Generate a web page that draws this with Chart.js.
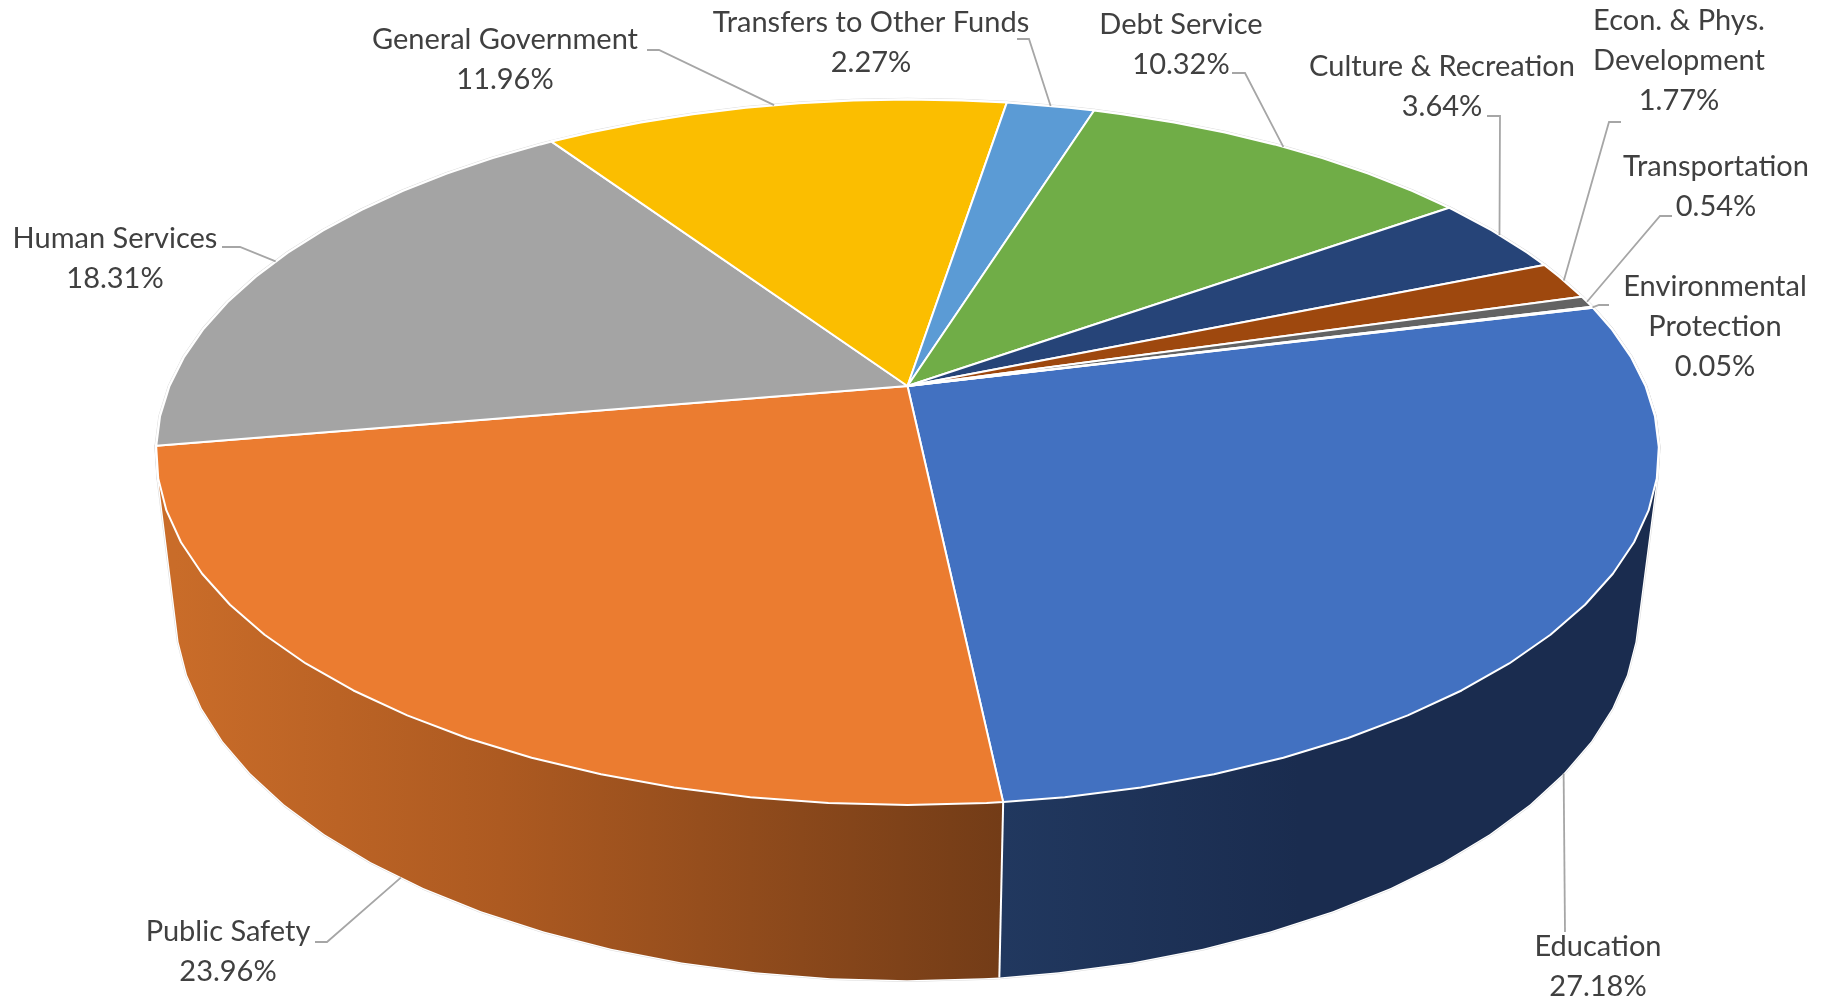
<!DOCTYPE html>
<html>
<head>
<meta charset="utf-8">
<title>Expenditures by Function</title>
<style>
  html, body { margin: 0; padding: 0; background: #ffffff; }
  canvas { display: block; }
</style>
<script src="https://cdn.jsdelivr.net/npm/chart.js@4/dist/chart.umd.js"></script>
</head>
<body>
<canvas id="pie" width="1835" height="1002"></canvas>
<script>
// Spending shares, clockwise from the first slice
const categories = ['Education', 'Public Safety', 'Human Services', 'General Government',
  'Transfers to Other Funds', 'Debt Service', 'Culture & Recreation',
  'Econ. & Phys. Development', 'Transportation', 'Environmental Protection'];
const shares = [27.18, 23.96, 18.31, 11.96, 2.27, 10.32, 3.64, 1.77, 0.54, 0.05];
const sliceColors = ['#4271C1', '#EB7C30', '#A4A4A4', '#FBBE00', '#5B9BD5',
  '#70AD47', '#264478', '#9E480E', '#636363', '#997300'];
const labelLines = [['Education'], ['Public Safety'], ['Human Services'], ['General Government'],
  ['Transfers to Other Funds'], ['Debt Service'], ['Culture & Recreation'],
  ['Econ. & Phys.', 'Development'], ['Transportation'], ['Environmental', 'Protection']];

// Label block centre, first baseline, and the two leader points next to the text
const labelLayout = [
  { x: 1598, y: 956, from: [1565, 932], elbow: [1565, 932] },
  { x: 228, y: 941, from: [315, 942], elbow: [327, 942] },
  { x: 115, y: 248, from: [222, 247], elbow: [240, 247] },
  { x: 505, y: 49, from: [647, 50], elbow: [659, 50] },
  { x: 871, y: 32, from: [1017, 39], elbow: [1029, 39] },
  { x: 1181, y: 34, from: [1232, 73], elbow: [1245, 73] },
  { x: 1442, y: 76, from: [1487, 116], elbow: [1500, 116] },
  { x: 1679, y: 30, from: [1621, 122], elbow: [1609, 122] },
  { x: 1716, y: 176, from: [1672, 216], elbow: [1660, 216] },
  { x: 1715, y: 296, from: [1609, 305], elbow: [1599, 305] }
];

// Side-wall shading: horizontal gradient stops in canvas x
const wallShades = {
  0: [[1002, '#21385F'], [1300, '#1A2C4F'], [1660, '#1A2C4F']],
  1: [[176, '#C96C29'], [500, '#AD5A21'], [1002, '#733C17']]
};

// Perspective of the top and bottom rims of the disc
const topRim = { cx: 907.5, cy: 386, a: 738, b: 340.3, p: 0.1878 };
const bottomRim = { cx: 907, cy: 545, a: 719, b: 357, p: 0.18 };
const FACET = Math.PI / 36;
const FONT = '29px Lato';
const LINE_HEIGHT = 40;

function project(rim, angle) {
  const u = Math.cos(angle), v = Math.sin(angle);
  const w = 1 - rim.p * v;
  return [rim.cx + rim.a * u / w, rim.cy + rim.b * v / w];
}

function sampleAngles(start, end) {
  const list = [start];
  let a = Math.ceil(start / FACET + 1e-6) * FACET;
  while (a < end - 1e-6) { list.push(a); a += FACET; }
  list.push(end);
  return list;
}

// The whole side wall of a slice as one path of quads, all wound the same way,
// so the fill is seamless and overlapping quads past the silhouette do not cancel
function wallPath(ctx, arc) {
  const angles = sampleAngles(arc.startAngle, arc.endAngle);
  ctx.beginPath();
  angles.slice(1).forEach((a1, i) => {
    const a0 = angles[i];
    const quad = [project(topRim, a0), project(topRim, a1), project(bottomRim, a1), project(bottomRim, a0)];
    let area = 0;
    quad.forEach(([x, y], n) => {
      const [nx, ny] = quad[(n + 1) % 4];
      area += x * ny - nx * y;
    });
    if (area < 0) quad.reverse();
    quad.forEach(([x, y], n) => (n ? ctx.lineTo(x, y) : ctx.moveTo(x, y)));
    ctx.closePath();
  });
}

function wedgePath(ctx, arc) {
  ctx.beginPath();
  ctx.moveTo(topRim.cx, topRim.cy);
  sampleAngles(arc.startAngle, arc.endAngle).forEach(a => {
    const [x, y] = project(topRim, a);
    ctx.lineTo(x, y);
  });
  ctx.closePath();
}

function wallFill(ctx, index) {
  const stops = wallShades[index];
  const first = stops[0][0], last = stops[stops.length - 1][0];
  const g = ctx.createLinearGradient(first, 0, last, 0);
  stops.forEach(([x, c]) => g.addColorStop((x - first) / (last - first), c));
  return g;
}

// Replaces the flat arc drawing with a tilted, extruded disc built from the arc angles
const tiltedDisc = {
  id: 'tiltedDisc',
  beforeDatasetDraw(chart, args) {
    const ctx = chart.ctx;
    const arcs = chart.getDatasetMeta(args.index).data;
    const walled = [0, 1].filter(i => arcs[i]);
    ctx.save();
    ctx.lineJoin = 'round';

    // Faint outer rim, then the white edge just inside it
    [['#dcdcdc', 3.5], ['#ffffff', 2.5]].forEach(([color, width]) => {
      ctx.strokeStyle = color;
      ctx.lineWidth = width;
      walled.forEach(i => { wallPath(ctx, arcs[i]); ctx.stroke(); });
      arcs.forEach(arc => { wedgePath(ctx, arc); ctx.stroke(); });
    });

    walled.forEach(i => {
      wallPath(ctx, arcs[i]);
      ctx.fillStyle = wallFill(ctx, i);
      ctx.fill();
    });

    // White seam where two walls meet
    const seam = arcs[0].endAngle;
    const [sx0, sy0] = project(topRim, seam);
    const [sx1, sy1] = project(bottomRim, seam);
    ctx.beginPath();
    ctx.moveTo(sx0, sy0);
    ctx.lineTo(sx1, sy1);
    ctx.strokeStyle = '#ffffff';
    ctx.lineWidth = 2;
    ctx.stroke();

    arcs.forEach((arc, i) => {
      wedgePath(ctx, arc);
      ctx.fillStyle = sliceColors[i];
      ctx.fill();
      ctx.strokeStyle = '#ffffff';
      ctx.lineWidth = 2;
      ctx.stroke();
    });
    ctx.restore();
    return false;
  },
  afterDatasetsDraw(chart) {
    const ctx = chart.ctx;
    const arcs = chart.getDatasetMeta(0).data;
    ctx.save();
    ctx.font = FONT;
    ctx.textAlign = 'center';
    ctx.textBaseline = 'alphabetic';
    arcs.forEach((arc, i) => {
      const layout = labelLayout[i];
      const mid = (arc.startAngle + arc.endAngle) / 2;
      // Front-facing slices hook onto the lower rim, the rest onto the top rim
      const end = project(i < 2 ? bottomRim : topRim, mid);
      ctx.beginPath();
      ctx.moveTo(layout.from[0], layout.from[1]);
      ctx.lineTo(layout.elbow[0], layout.elbow[1]);
      ctx.lineTo(end[0], end[1]);
      ctx.strokeStyle = '#A6A6A6';
      ctx.lineWidth = 1.8;
      ctx.stroke();

      ctx.fillStyle = '#404040';
      const lines = labelLines[i].concat(shares[i].toFixed(2) + '%');
      lines.forEach((text, n) => ctx.fillText(text, layout.x, layout.y + n * LINE_HEIGHT));
    });
    ctx.restore();
  }
};

new Chart(document.getElementById('pie'), {
  type: 'pie',
  data: {
    labels: categories,
    datasets: [{ data: shares, backgroundColor: sliceColors, borderColor: '#ffffff', borderWidth: 2 }]
  },
  options: {
    responsive: false,
    animation: false,
    rotation: 76.1,
    plugins: { legend: { display: false }, tooltip: { enabled: false } }
  },
  plugins: [tiltedDisc]
});
</script>
</body>
</html>
